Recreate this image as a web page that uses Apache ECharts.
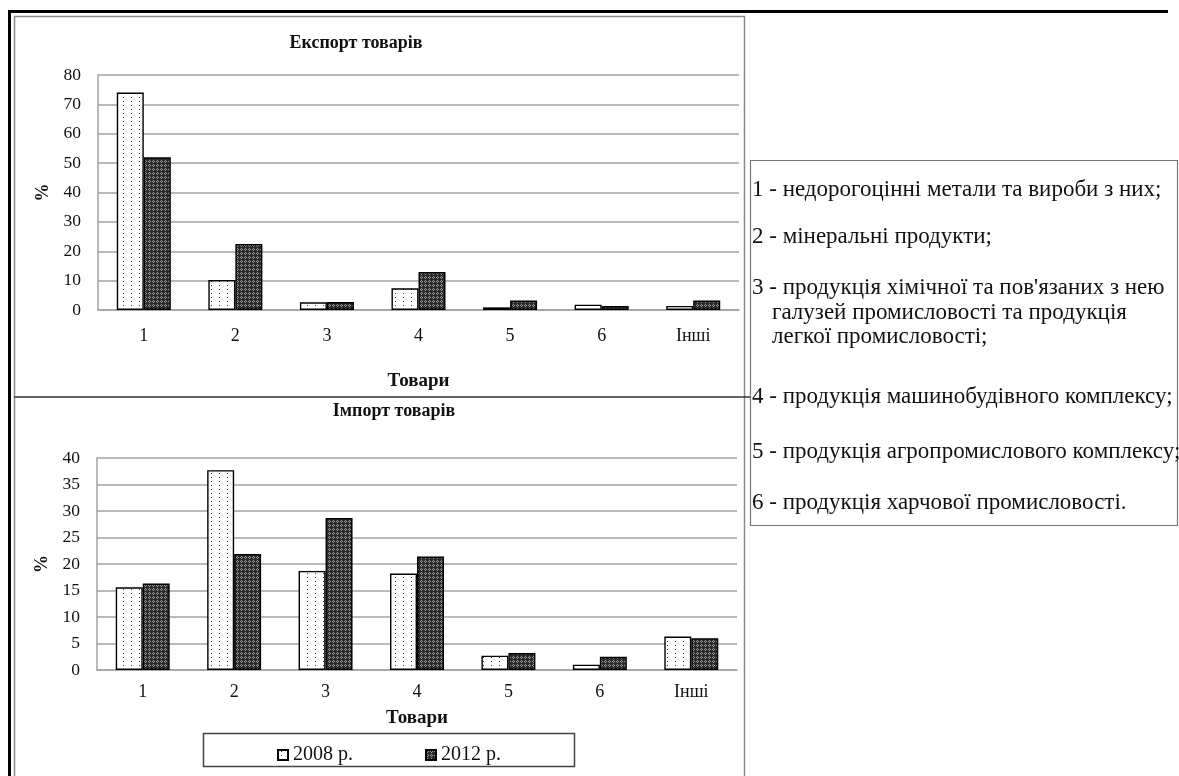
<!DOCTYPE html>
<html>
<head>
<meta charset="utf-8">
<script src="https://cdn.jsdelivr.net/npm/echarts@6/dist/echarts.min.js"></script>
<style>
html,body{margin:0;padding:0;background:#fff;}
#main{width:1179px;height:776px;}
</style>
</head>
<body>
<div id="main"></div>
<script>
// ---- data ----
const categories = ['1', '2', '3', '4', '5', '6', 'Інші'];
const seriesNames = ['2008 р.', '2012 р.'];
const export2008 = [74, 10.2, 2.6, 7.4, 0.9, 1.8, 1.4];
const export2012 = [52, 22.5, 2.7, 12.9, 3.2, 1.4, 3.2];
const import2008 = [15.6, 37.7, 18.7, 18.2, 2.7, 1.0, 6.3];
const import2012 = [16.3, 21.9, 28.7, 21.4, 3.2, 2.5, 6.0];
const exportTitle = 'Експорт товарів';
const importTitle = 'Імпорт товарів';
const xName = 'Товари';
const yName = '%';
const notes = [
  ['1 - недорогоцінні метали та вироби з них;'],
  ['2 - мінеральні продукти;'],
  ['3 - продукція хімічної та пов\'язаних з нею', 'галузей промисловості та продукція', 'легкої промисловості;'],
  ['4 - продукція машинобудівного комплексу;'],
  ['5 - продукція агропромислового комплексу;'],
  ['6 - продукція харчової промисловості.']
];

// ---- patterns ----
function dotPattern() {
  const c = document.createElement('canvas');
  c.width = 8; c.height = 4;
  const g = c.getContext('2d');
  g.fillStyle = '#ffffff'; g.fillRect(0, 0, 8, 4);
  g.fillStyle = '#3a3a3a'; g.fillRect(3, 1, 1, 1);
  return c;
}
function hatchPattern() {
  const c = document.createElement('canvas');
  c.width = 4; c.height = 4;
  const g = c.getContext('2d');
  g.fillStyle = '#2b2b2b'; g.fillRect(0, 0, 4, 4);
  g.fillStyle = '#9a9a9a';
  g.fillRect(1, 0, 1, 1); g.fillRect(0, 1, 1, 1); g.fillRect(2, 1, 1, 1); g.fillRect(1, 2, 1, 1);
  return c;
}
const pat2008 = { image: dotPattern(), repeat: 'repeat' };
const pat2012 = { image: hatchPattern(), repeat: 'repeat' };

const FONT = '"Liberation Serif", "Times New Roman", serif';
const gridColor = '#a3a3a3';

function xAxisCfg(gridIndex, margin, nameGap) {
  return {
    type: 'category', gridIndex: gridIndex, data: categories,
    axisLine: { show: true, lineStyle: { color: gridColor, width: 1.5 } },
    axisTick: { show: false },
    axisLabel: { color: '#111', fontFamily: FONT, fontSize: 18, margin: margin },
    name: xName, nameLocation: 'middle', nameGap: nameGap,
    nameTextStyle: { color: '#111', fontFamily: FONT, fontSize: 19, fontWeight: 'bold' }
  };
}
function yAxisCfg(gridIndex, max, interval) {
  return {
    type: 'value', gridIndex: gridIndex, min: 0, max: max, interval: interval,
    axisLine: { show: true, lineStyle: { color: gridColor, width: 1.5 } },
    axisTick: { show: false },
    splitLine: { show: true, lineStyle: { color: gridColor, width: 1.5 } },
    axisLabel: { color: '#111', fontFamily: FONT, fontSize: 17.5, margin: 17 },
    name: yName, nameLocation: 'middle', nameGap: 44, nameRotate: 90,
    nameTextStyle: { color: '#111', fontFamily: FONT, fontSize: 18, fontWeight: 'bold' }
  };
}
function barSeries(name, data, pat, xi, yi) {
  return {
    name: name, type: 'bar', xAxisIndex: xi, yAxisIndex: yi, data: data,
    barGap: '0%', barCategoryGap: '41%',
    itemStyle: { color: pat, borderColor: '#000', borderWidth: 1.4 },
    emphasis: { disabled: true }
  };
}

// ---- decorations (frames, note box) ----
const graphics = [
  { type: 'line', shape: { x1: 8, y1: 11.5, x2: 1168, y2: 11.5 }, style: { stroke: '#000', lineWidth: 3 } },
  { type: 'line', shape: { x1: 9.5, y1: 10, x2: 9.5, y2: 776 }, style: { stroke: '#000', lineWidth: 3 } },
  { type: 'rect', shape: { x: 14.5, y: 16.5, width: 730, height: 770 }, style: { fill: 'none', stroke: '#8a8a8a', lineWidth: 1.5 } },
  { type: 'line', shape: { x1: 14, y1: 397, x2: 750, y2: 397 }, style: { stroke: '#333', lineWidth: 1.5 } },
  { type: 'rect', shape: { x: 750.5, y: 160.5, width: 427, height: 365 }, style: { fill: '#fff', stroke: '#777', lineWidth: 1.2 } },
  { type: 'rect', shape: { x: 203.5, y: 733.5, width: 371, height: 33 }, style: { fill: '#fff', stroke: '#444', lineWidth: 1.5 } },
  { type: 'text', style: { text: exportTitle, x: 356, y: 43, align: 'center', verticalAlign: 'middle', font: 'bold 18px ' + FONT, fill: '#111' } },
  { type: 'text', style: { text: importTitle, x: 394, y: 411, align: 'center', verticalAlign: 'middle', font: 'bold 18px ' + FONT, fill: '#111' } }
];
const noteY = [190, 237, 288, 397, 452, 503];
notes.forEach(function (lines, i) {
  lines.forEach(function (t, j) {
    graphics.push({ type: 'text', style: { text: t, x: j === 0 ? 752 : 772, y: noteY[i] + j * 24.5, verticalAlign: 'middle', font: '23px ' + FONT, fill: '#111' } });
  });
});

const chart = echarts.init(document.getElementById('main'), null, { renderer: 'canvas' });
chart.setOption({
  animation: false,
  backgroundColor: '#fff',
  grid: [
    { left: 98, right: 440, top: 75, height: 235 },
    { left: 97, right: 442, top: 458, height: 212 }
  ],
  xAxis: [xAxisCfg(0, 17, 62), xAxisCfg(1, 13, 39)],
  yAxis: [yAxisCfg(0, 80, 10), yAxisCfg(1, 40, 5)],
  legend: {
    data: seriesNames, left: 272, top: 740, icon: 'rect', itemWidth: 10, itemHeight: 10, itemGap: 72,
    textStyle: { fontFamily: FONT, fontSize: 20, color: '#111' }, z: 10
  },
  graphic: { elements: graphics },
  series: [
    barSeries(seriesNames[0], export2008, pat2008, 0, 0),
    barSeries(seriesNames[1], export2012, pat2012, 0, 0),
    barSeries(seriesNames[0], import2008, pat2008, 1, 1),
    barSeries(seriesNames[1], import2012, pat2012, 1, 1)
  ]
});
</script>
</body>
</html>
